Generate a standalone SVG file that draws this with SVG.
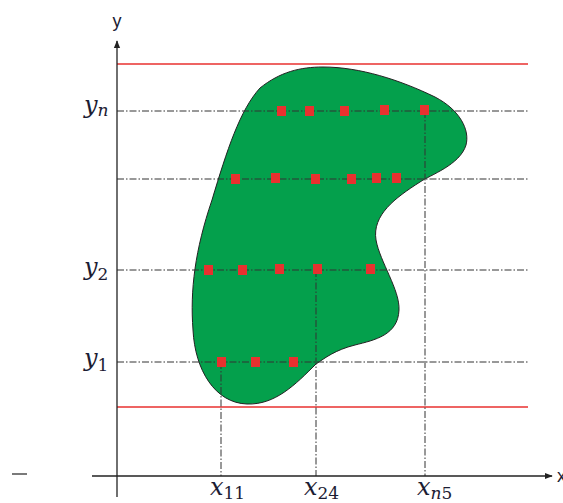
<svg xmlns="http://www.w3.org/2000/svg" width="563" height="503" viewBox="0 0 563 503">
<defs>
<style>
.axis{stroke:#222;stroke-width:1.3;fill:none}
.red{stroke:#e8312f;stroke-width:1.3}
.dd{stroke:#333;stroke-width:1;stroke-dasharray:7,2,1.5,2;fill:none}
.pt{fill:#e8312f}
.m{font-family:'DejaVu Serif','Liberation Serif',serif;font-style:italic;fill:#1c1c33}
.lab{font-size:24px}
.sub{font-size:17px;font-style:normal}
.subi{font-size:17px}
</style>
<marker id="arr" viewBox="0 0 10 10" refX="9" refY="5" markerWidth="8" markerHeight="8" markerUnits="userSpaceOnUse" orient="auto">
<path d="M0,1 L10,5 L0,9 Z" fill="#222"/>
</marker>
</defs>
<rect width="563" height="503" fill="#fff"/>
<g id="region">
<path d="M323,67 C360,67 400,80 435,97 C460,110 470,130 466,145 C460,165 430,175 420,182 C395,198 372,215 376,240 C380,262 400,290 399,310 C398,335 375,340 355,345 C335,350 325,358 316,364 C295,385 275,405 247,404 C215,403 195,370 193,330 C190,290 195,250 212,200 C227,150 240,110 260,88 C280,72 300,67 323,67 Z" fill="#04a04c" stroke="#222" stroke-width="1"/>
</g>
<g id="bounds">
<line class="red" x1="117" y1="64" x2="528" y2="64"/>
<line class="red" x1="117" y1="407" x2="528" y2="407"/>
</g>
<g id="connectors">
<line class="dd" x1="117" y1="111" x2="528" y2="111"/>
<line class="dd" x1="117" y1="179" x2="528" y2="179"/>
<line class="dd" x1="117" y1="270" x2="528" y2="270"/>
<line class="dd" x1="117" y1="362" x2="528" y2="362"/>
<line class="dd" x1="221" y1="362" x2="221" y2="476"/>
<line class="dd" x1="316" y1="270" x2="316" y2="476"/>
<line class="dd" x1="425" y1="111" x2="425" y2="476"/>
</g>
<g id="axes">
<line class="axis" x1="117" y1="497" x2="117" y2="41" marker-end="url(#arr)"/>
<line class="axis" x1="92" y1="476" x2="552" y2="476" marker-end="url(#arr)"/>
<line x1="12" y1="474" x2="27" y2="474" stroke="#222" stroke-width="1.2"/>
<text x="117" y="27" font-family="Liberation Sans,Arial,sans-serif" font-size="18" fill="#1c1c33" text-anchor="middle">y</text>
<text x="557" y="482" font-family="Liberation Sans,Arial,sans-serif" font-size="18" fill="#1c1c33">x</text>
</g>
<g id="points">
<rect class="pt" x="277" y="106" width="9" height="10"/>
<rect class="pt" x="305" y="106" width="9" height="10"/>
<rect class="pt" x="340" y="106" width="9" height="10"/>
<rect class="pt" x="380" y="105" width="9" height="10"/>
<rect class="pt" x="420" y="105" width="9" height="10"/>
<rect class="pt" x="231" y="174" width="9" height="10"/>
<rect class="pt" x="271" y="173" width="9" height="10"/>
<rect class="pt" x="311" y="174" width="9" height="10"/>
<rect class="pt" x="347" y="174" width="9" height="10"/>
<rect class="pt" x="372" y="173" width="9" height="10"/>
<rect class="pt" x="392" y="173" width="9" height="10"/>
<rect class="pt" x="204" y="265" width="9" height="10"/>
<rect class="pt" x="238" y="265" width="9" height="10"/>
<rect class="pt" x="275" y="264" width="9" height="10"/>
<rect class="pt" x="313" y="264" width="9" height="10"/>
<rect class="pt" x="366" y="264" width="9" height="10"/>
<rect class="pt" x="217" y="357" width="9" height="10"/>
<rect class="pt" x="251" y="357" width="9" height="10"/>
<rect class="pt" x="289" y="357" width="9" height="10"/>
</g>
<g id="labels">
<text class="m lab" x="84" y="113">y<tspan class="subi" dy="3">n</tspan></text>
<text class="m lab" x="84" y="275">y<tspan class="sub" dy="5">2</tspan></text>
<text class="m lab" x="84" y="366">y<tspan class="sub" dy="5">1</tspan></text>
<text class="m lab" x="210" y="495">x<tspan class="sub" dy="4">11</tspan></text>
<text class="m lab" x="304" y="495">x<tspan class="sub" dy="4">24</tspan></text>
<text class="m lab" x="417" y="495">x<tspan class="subi" dy="4">n</tspan><tspan class="sub">5</tspan></text>
</g>
</svg>
